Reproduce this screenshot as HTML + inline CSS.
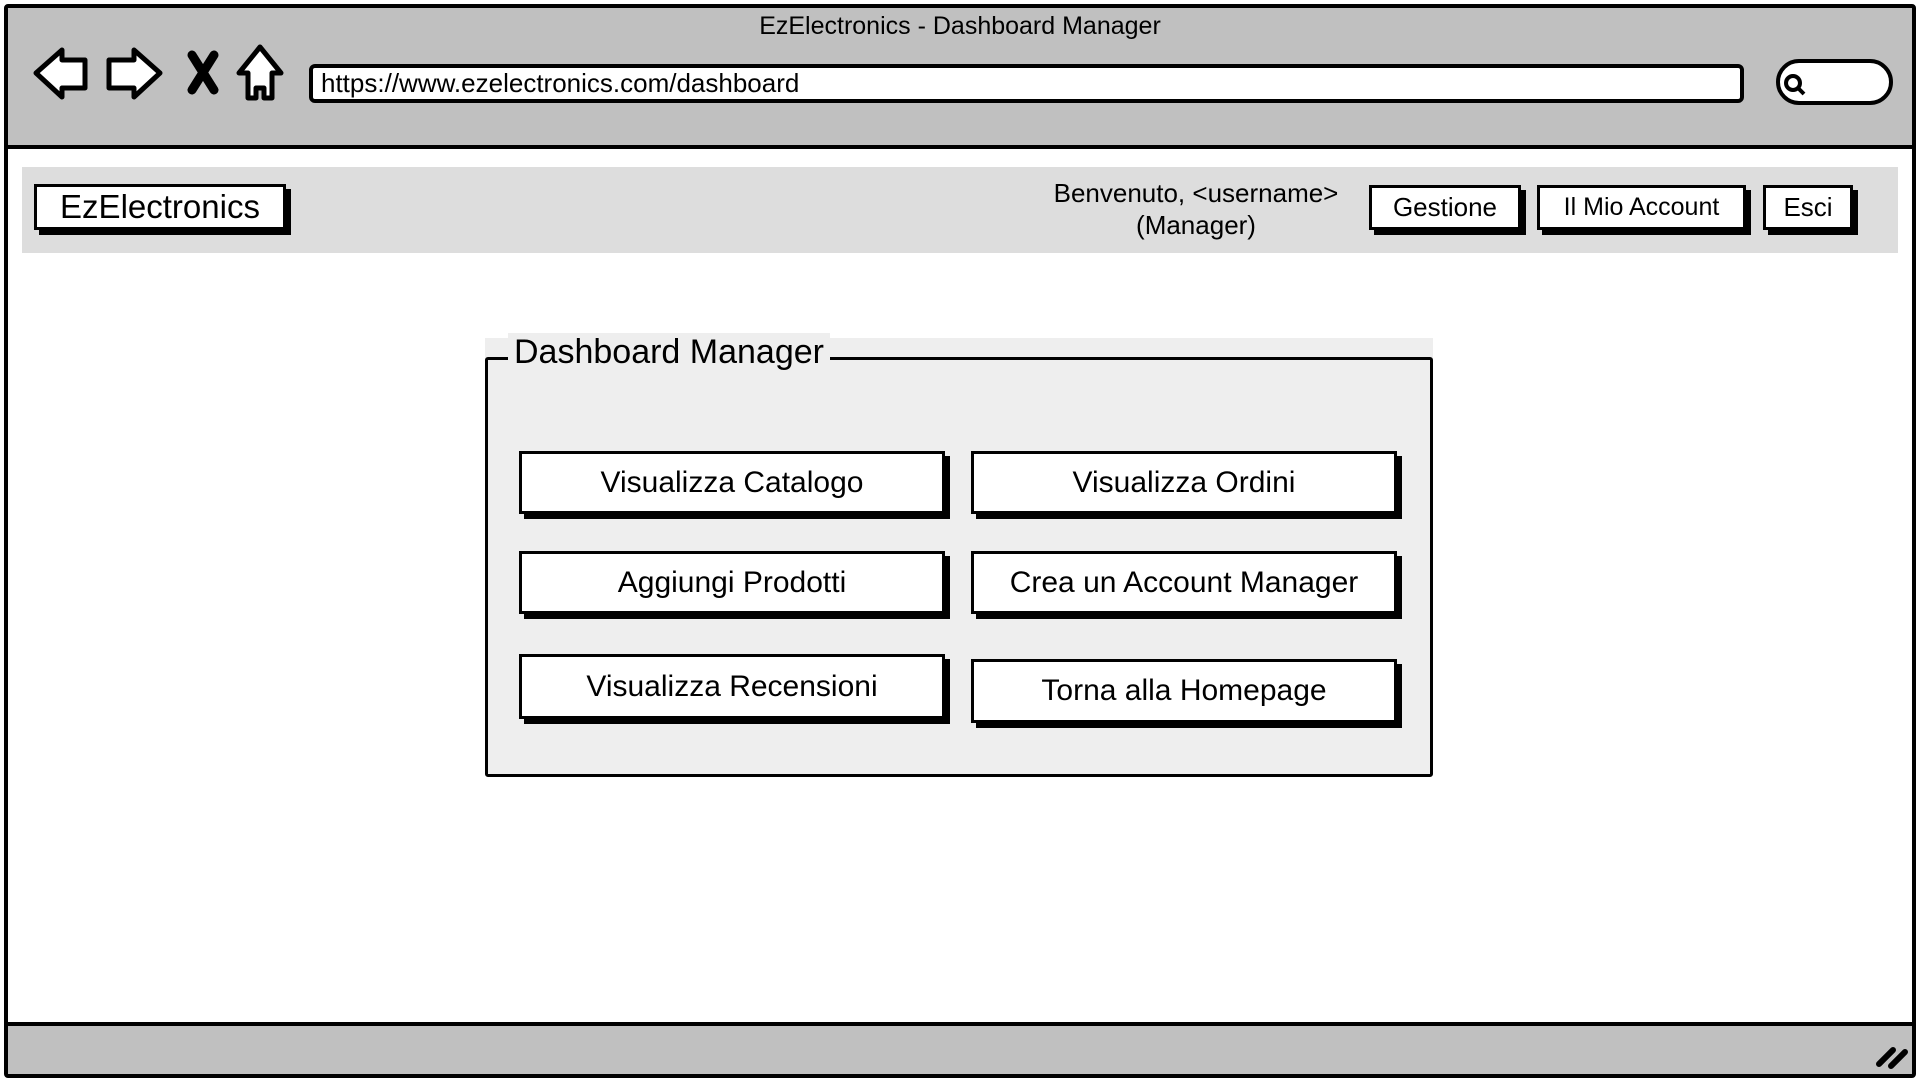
<!DOCTYPE html>
<html><head><meta charset="utf-8"><style>
*{margin:0;padding:0;box-sizing:border-box}
body{width:1920px;height:1080px;background:#fff;position:relative;overflow:hidden;font-family:"Liberation Sans",sans-serif;color:#000}
.a{position:absolute}
.btn{position:absolute;background:#fff;border:3px solid #000;box-shadow:5px 5px 0 #000;display:flex;align-items:center;justify-content:center;white-space:nowrap}
</style></head><body>
<div class="a" style="left:4px;top:4px;width:1912px;height:1074px;border:4px solid #000;border-radius:4px"></div>
<div class="a" style="left:8px;top:8px;width:1904px;height:141px;background:#c0c0c0;border-bottom:4px solid #000"></div>
<div class="a" style="left:0;top:12px;width:1920px;text-align:center;font-size:25px">EzElectronics - Dashboard Manager</div>
<svg class="a" style="left:0;top:0" width="300" height="110">
<path d="M36 73 L62 50 L62 60 L85 60 L85 88 L62 88 L62 97 Z" fill="#fff" stroke="#000" stroke-width="5" stroke-linejoin="round"/>
<path d="M160 73 L134 50 L134 60 L109 60 L109 88 L134 88 L134 97 Z" fill="#fff" stroke="#000" stroke-width="5" stroke-linejoin="round"/>
<path d="M192 55 L214 90 M214 55 L192 90" stroke="#000" stroke-width="9" stroke-linecap="round"/>
<path d="M260 47 L281 73 L272 73 L272 98 L264 98 L264 88 L256 88 L256 98 L248 98 L248 73 L239 73 Z" fill="#fff" stroke="#000" stroke-width="5" stroke-linejoin="round"/>
</svg>
<div class="a" style="left:309px;top:64px;width:1435px;height:39px;background:#fff;border:4px solid #000;border-radius:6px;font-size:26px;padding-left:8px;line-height:31px">https://www.ezelectronics.com/dashboard</div>
<div class="a" style="left:1776px;top:59px;width:117px;height:46px;background:#fff;border:4px solid #000;border-radius:23px"></div>
<svg class="a" style="left:1780px;top:70px" width="30" height="30"><circle cx="13" cy="13" r="7" fill="none" stroke="#000" stroke-width="4"/><path d="M18 18 L24 24" stroke="#000" stroke-width="4"/></svg>
<div class="a" style="left:22px;top:167px;width:1876px;height:86px;background:#ddd"></div>
<div class="btn" style="left:34px;top:184px;width:252px;height:46px;font-size:33px">EzElectronics</div>
<div class="a" style="left:1030px;top:177px;width:332px;text-align:center;font-size:26px;line-height:32px">Benvenuto, &lt;username&gt;<br>(Manager)</div>
<div class="btn" style="left:1369px;top:185px;width:152px;height:45px;font-size:26px">Gestione</div>
<div class="btn" style="left:1537px;top:185px;width:209px;height:45px;font-size:25px">Il Mio Account</div>
<div class="btn" style="left:1763px;top:185px;width:90px;height:45px;font-size:26px">Esci</div>
<div class="a" style="left:485px;top:338px;width:948px;height:438px;background:#eee"></div>
<div class="a" style="left:485px;top:357px;width:948px;height:420px;border:3px solid #000;border-radius:3px"></div>
<div class="a" style="left:508px;top:333px;background:#eee;padding:0 6px;font-size:34px">Dashboard Manager</div>
<div class="btn" style="left:519px;top:451px;width:426px;height:63px;font-size:30px">Visualizza Catalogo</div>
<div class="btn" style="left:971px;top:451px;width:426px;height:63px;font-size:30px">Visualizza Ordini</div>
<div class="btn" style="left:519px;top:551px;width:426px;height:63px;font-size:30px">Aggiungi Prodotti</div>
<div class="btn" style="left:971px;top:551px;width:426px;height:63px;font-size:30px">Crea un Account Manager</div>
<div class="btn" style="left:519px;top:654px;width:426px;height:65px;font-size:30px">Visualizza Recensioni</div>
<div class="btn" style="left:971px;top:659px;width:426px;height:64px;font-size:30px">Torna alla Homepage</div>
<div class="a" style="left:8px;top:1022px;width:1904px;height:52px;background:#c0c0c0;border-top:4px solid #000"></div>
<svg class="a" style="left:1875px;top:1040px" width="40" height="30"><path d="M4 24 L18 10 M16 26 L30 12" stroke="#000" stroke-width="6" stroke-linecap="round"/></svg>
</body></html>
